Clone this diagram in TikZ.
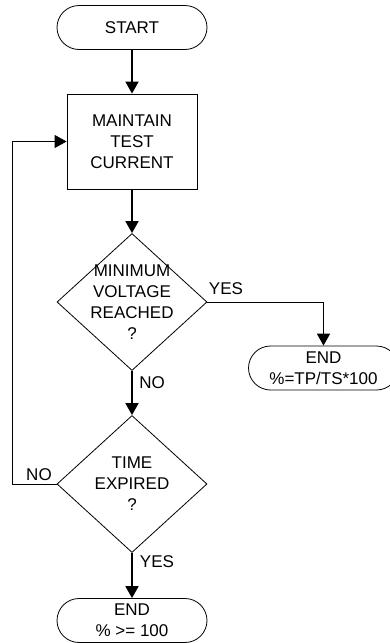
\documentclass[tikz,border=0pt]{standalone}
\usepackage{fontspec}
\setmainfont{Liberation Sans}
\usetikzlibrary{shapes.geometric,arrows.meta}

\begin{document}
\begin{tikzpicture}[x=1pt, y=-1pt,
		every node/.style={font=\fontsize{17}{21}\selectfont, align=center},
		terminal/.style={draw, line width=.8pt, rectangle, rounded corners=22pt, minimum width=150pt, minimum height=44pt, inner sep=0pt},
		process/.style={draw, line width=.8pt, rectangle, minimum width=130pt, minimum height=95pt, inner sep=0pt},
		decision/.style={draw, line width=.8pt, diamond, aspect=1.09, minimum width=150pt, minimum height=137pt, inner sep=-14pt},
		flow/.style={line width=1.8pt, -{Triangle[width=13pt,length=12pt]}},
		thinflow/.style={line width=.8pt}]
		  \useasboundingbox (0,0) rectangle (390,643);
		  \node[terminal] (start) at (132,27.5) {START};
		  \node[process] (maintain) at (132,141.5) {MAINTAIN\\TEST\\CURRENT};
		  \node[decision] (minvolt) at (132,302) {MINIMUM\\VOLTAGE\\REACHED\\?};
		  \node[terminal] (endtp) at (323.5,368) {END\\\%=TP/TS*100};
		  \node[decision] (timeexp) at (132,484) {TIME\\EXPIRED\\?};
		  \node[terminal] (endpct) at (132,620.5) {END\\\% >= 100};
		  \coordinate (yesturn) at (minvolt.east -| endtp.north);
		  \coordinate (loopbot) at (12,484);
		  \coordinate (looptop) at (12,141.5);
		  \draw[flow] (start) -- (maintain);
		  \draw[flow] (maintain) -- (minvolt);
		  \draw[thinflow] (minvolt.east) -- (yesturn);
		  \draw[flow] (yesturn) -- (endtp.north);
		  \draw[flow] (minvolt) -- (timeexp);
		  \draw[flow] (timeexp) -- (endpct);
		  \draw[thinflow] (timeexp.west) -- (loopbot) -- (looptop);
		  \draw[flow, line width=.8pt] (looptop) -- (maintain.west);
		  \node (yesone) at (226,289) {YES};
		  \node (noone) at (152,383) {NO};
		  \node (notwo) at (39,475) {NO};
		  \node (yestwo) at (157,562) {YES};
		\end{tikzpicture}
\end{document}
